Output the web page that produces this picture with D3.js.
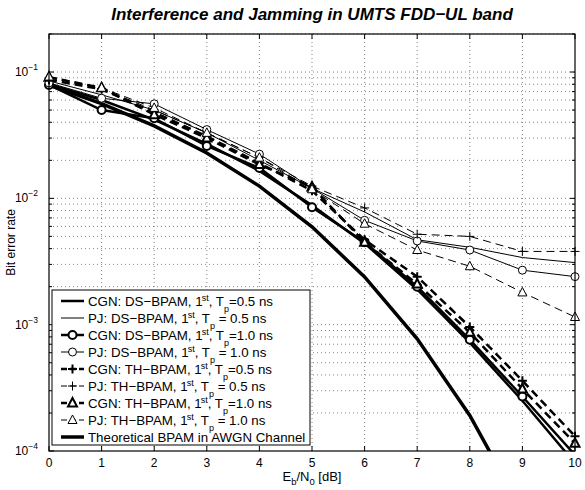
<!DOCTYPE html>
<html>
<head>
<meta charset="utf-8">
<script src="https://cdn.jsdelivr.net/npm/d3@7"></script>
<style>
  body { margin: 0; background: #fff; }
  svg { font-family: "Liberation Sans", Arial, sans-serif; }
</style>
</head>
<body>
<div id="chart"></div>
<script>
// Eb/N0 values (dB)
var ebno = [0, 1, 2, 3, 4, 5, 6, 7, 8, 9, 10];

// bit error rates
var cgnDs05 = [0.080, 0.060, 0.042, 0.027, 0.0165, 0.0088, 0.0044, 0.0019, 0.00072, 0.00025, 0.00008];
var pjDs05  = [0.085, 0.066, 0.050, 0.033, 0.020, 0.0120, 0.0078, 0.0047, 0.0041, 0.0034, 0.0031];
var cgnDs10 = [0.079, 0.050, 0.043, 0.026, 0.0174, 0.0085, 0.0045, 0.0020, 0.00076, 0.00027, 0.000093];
var pjDs10  = [0.082, 0.062, 0.056, 0.035, 0.0224, 0.0120, 0.0067, 0.0046, 0.0039, 0.0027, 0.0024];
var cgnTh05 = [0.087, 0.073, 0.048, 0.031, 0.019, 0.0115, 0.0047, 0.0024, 0.00096, 0.00036, 0.000131];
var pjTh05  = [0.090, 0.074, 0.050, 0.033, 0.021, 0.0125, 0.0084, 0.0052, 0.0050, 0.0038, 0.0038];
var cgnTh10 = [0.091, 0.075, 0.046, 0.030, 0.0185, 0.0123, 0.0045, 0.0021, 0.00087, 0.00031, 0.000115];
var pjTh10  = [0.092, 0.075, 0.052, 0.033, 0.021, 0.0118, 0.0063, 0.0039, 0.0029, 0.0018, 0.00115];
var theory  = [0.0786, 0.0563, 0.0375, 0.0229, 0.0125, 0.00595, 0.00239, 0.000773, 0.000191, 0.0000336, 0.00000387];

var xTicks = [0, 1, 2, 3, 4, 5, 6, 7, 8, 9, 10];
var yDecades = [-4, -3, -2, -1];

var series = [
  {name: "CGN: DS\u2212BPAM, 1", sep: "=", val: "0.5 ns", data: cgnDs05, w: 2.5, dash: null, mark: null},
  {name: "PJ: DS\u2212BPAM, 1", sep: " = ", val: "0.5 ns", data: pjDs05, w: 1, dash: null, mark: null},
  {name: "CGN: DS\u2212BPAM, 1", sep: "=", val: "1.0 ns", data: cgnDs10, w: 2.5, dash: null, mark: "o"},
  {name: "PJ: DS\u2212BPAM, 1", sep: " = ", val: "1.0 ns", data: pjDs10, w: 1, dash: null, mark: "o"},
  {name: "CGN: TH\u2212BPAM, 1", sep: "=", val: "0.5 ns", data: cgnTh05, w: 2.5, dash: "8,5", mark: "+"},
  {name: "PJ: TH\u2212BPAM, 1", sep: " = ", val: "0.5 ns", data: pjTh05, w: 1, dash: "8,5", mark: "+"},
  {name: "CGN: TH\u2212BPAM, 1", sep: "=", val: "1.0 ns", data: cgnTh10, w: 2.5, dash: "8,5", mark: "^"},
  {name: "PJ: TH\u2212BPAM, 1", sep: " = ", val: "1.0 ns", data: pjTh10, w: 1, dash: "8,5", mark: "^"},
  {name: "Theoretical BPAM in AWGN Channel", data: theory, w: 3.5, dash: null, mark: null}
];

var W = 585, H = 490;
var L = 49, R = 575, T = 34, B = 451;

var svg = d3.select("#chart").append("svg")
    .attr("width", W).attr("height", H);

var x = d3.scaleLinear().domain([0, 10]).range([L, R]);
var y = d3.scaleLog().domain([1e-4, 0.2]).range([B, T]);

// grid
var minorVals = [];
yDecades.forEach(function(e) {
  for (var m = 1; m <= 9; m++) {
    var v = m * Math.pow(10, e);
    if (v <= 0.2 && v > 1e-4) minorVals.push({v: v, major: m === 1});
  }
});

var grid = svg.append("g").attr("stroke", "#000").attr("stroke-width", 0.8)
    .attr("stroke-dasharray", "1,3").attr("opacity", 0.6);
grid.selectAll("line.gx").data(xTicks.slice(1, -1)).enter().append("line")
    .attr("x1", function(d) { return x(d); }).attr("x2", function(d) { return x(d); })
    .attr("y1", T).attr("y2", B);
grid.selectAll("line.gy").data(minorVals).enter().append("line")
    .attr("x1", L).attr("x2", R)
    .attr("y1", function(d) { return y(d.v); }).attr("y2", function(d) { return y(d.v); });

// ticks
var ticks = svg.append("g").attr("stroke", "#000").attr("stroke-width", 1);
xTicks.forEach(function(t) {
  ticks.append("line").attr("x1", x(t)).attr("x2", x(t)).attr("y1", B).attr("y2", B - 5);
  ticks.append("line").attr("x1", x(t)).attr("x2", x(t)).attr("y1", T).attr("y2", T + 5);
});
minorVals.concat([{v: 1e-4, major: true}]).forEach(function(d) {
  var len = d.major ? 5 : 3;
  ticks.append("line").attr("x1", L).attr("x2", L + len).attr("y1", y(d.v)).attr("y2", y(d.v));
  ticks.append("line").attr("x1", R).attr("x2", R - len).attr("y1", y(d.v)).attr("y2", y(d.v));
});

// tick labels
svg.append("g").selectAll("text").data(xTicks).enter().append("text")
    .attr("x", function(d) { return x(d); }).attr("y", B + 16)
    .attr("text-anchor", "middle").attr("font-size", 12)
    .text(function(d) { return d; });

yDecades.forEach(function(e) {
  var t = svg.append("text").attr("x", L - 11).attr("y", y(Math.pow(10, e)) + 4)
      .attr("text-anchor", "end").attr("font-size", 12);
  t.append("tspan").text("10");
  t.append("tspan").attr("dy", -6).attr("font-size", 8.5).text("\u2212" + (-e));
});

// lines
svg.append("clipPath").attr("id", "clip").append("rect")
    .attr("x", L).attr("y", T).attr("width", R - L).attr("height", B - T);

var line = d3.line()
    .x(function(d, i) { return x(ebno[i]); })
    .y(function(d) { return y(d); });

var plot = svg.append("g").attr("clip-path", "url(#clip)");

function drawMarker(g, kind, cx, cy, w) {
  var sw = w > 1 ? 2 : 1;
  if (kind === "o") {
    g.append("circle").attr("cx", cx).attr("cy", cy).attr("r", 4)
        .attr("fill", "#fff").attr("stroke", "#000").attr("stroke-width", sw);
  } else if (kind === "+") {
    g.append("path").attr("d", "M" + (cx - 4.5) + "," + cy + "H" + (cx + 4.5) + "M" + cx + "," + (cy - 4.5) + "V" + (cy + 4.5))
        .attr("stroke", "#000").attr("stroke-width", sw).attr("fill", "none");
  } else if (kind === "^") {
    g.append("path").attr("d", "M" + cx + "," + (cy - 5) + "L" + (cx + 4.5) + "," + (cy + 3.5) + "L" + (cx - 4.5) + "," + (cy + 3.5) + "Z")
        .attr("stroke", "#000").attr("stroke-width", sw).attr("fill", "#fff");
  }
}

series.forEach(function(s) {
  plot.append("path").datum(s.data)
      .attr("d", line).attr("fill", "none").attr("stroke", "#000")
      .attr("stroke-width", s.w).attr("stroke-dasharray", s.dash);
});
series.forEach(function(s) {
  if (!s.mark) return;
  var mg = svg.append("g");
  s.data.forEach(function(v, i) {
    if (v >= 1e-4) drawMarker(mg, s.mark, x(ebno[i]), y(v), s.w);
  });
});

// frame
svg.append("rect").attr("x", L).attr("y", T).attr("width", R - L).attr("height", B - T)
    .attr("fill", "none").attr("stroke", "#000").attr("stroke-width", 1.2);

// legend
var lgX = 52, lgY = 290, rowH = 17;
var lg = svg.append("g");
lg.append("rect").attr("x", lgX).attr("y", lgY).attr("width", 258).attr("height", 155)
    .attr("fill", "#fff").attr("stroke", "#000").attr("stroke-width", 1);

series.forEach(function(s, i) {
  var cy = lgY + 11 + i * rowH;
  lg.append("line").attr("x1", lgX + 9).attr("x2", lgX + 32).attr("y1", cy).attr("y2", cy)
      .attr("stroke", "#000").attr("stroke-width", s.w).attr("stroke-dasharray", s.dash ? "6,3" : null);
  if (s.mark) drawMarker(lg, s.mark, lgX + 20.5, cy, s.w);
  var t = lg.append("text").attr("x", lgX + 36).attr("y", cy + 4.5).attr("font-size", 13.3);
  t.append("tspan").text(s.name);
  if (s.val) {
    t.append("tspan").attr("dx", -1).attr("dy", -5).attr("font-size", 9).text("st");
    t.append("tspan").attr("dy", 5).text(", T");
    t.append("tspan").attr("dy", 6).attr("font-size", 9).text("p");
    t.append("tspan").attr("dy", -6).text(s.sep + s.val);
  }
});

// titles
svg.append("text").attr("x", (L + R) / 2).attr("y", 20).attr("text-anchor", "middle")
    .attr("font-size", 17).attr("font-weight", "bold").attr("font-style", "italic")
    .text("Interference and Jamming in UMTS FDD\u2212UL band");

var xl = svg.append("text").attr("x", (L + R) / 2).attr("y", 481).attr("text-anchor", "middle")
    .attr("font-size", 13);
xl.append("tspan").text("E");
xl.append("tspan").attr("dy", 4).attr("font-size", 9.5).text("b");
xl.append("tspan").attr("dy", -4).text("/N");
xl.append("tspan").attr("dy", 4).attr("font-size", 9.5).text("0");
xl.append("tspan").attr("dy", -4).text(" [dB]");

svg.append("text").attr("transform", "translate(15," + ((T + B) / 2) + ") rotate(-90)")
    .attr("text-anchor", "middle").attr("font-size", 12).text("Bit error rate");
</script>
</body>
</html>
